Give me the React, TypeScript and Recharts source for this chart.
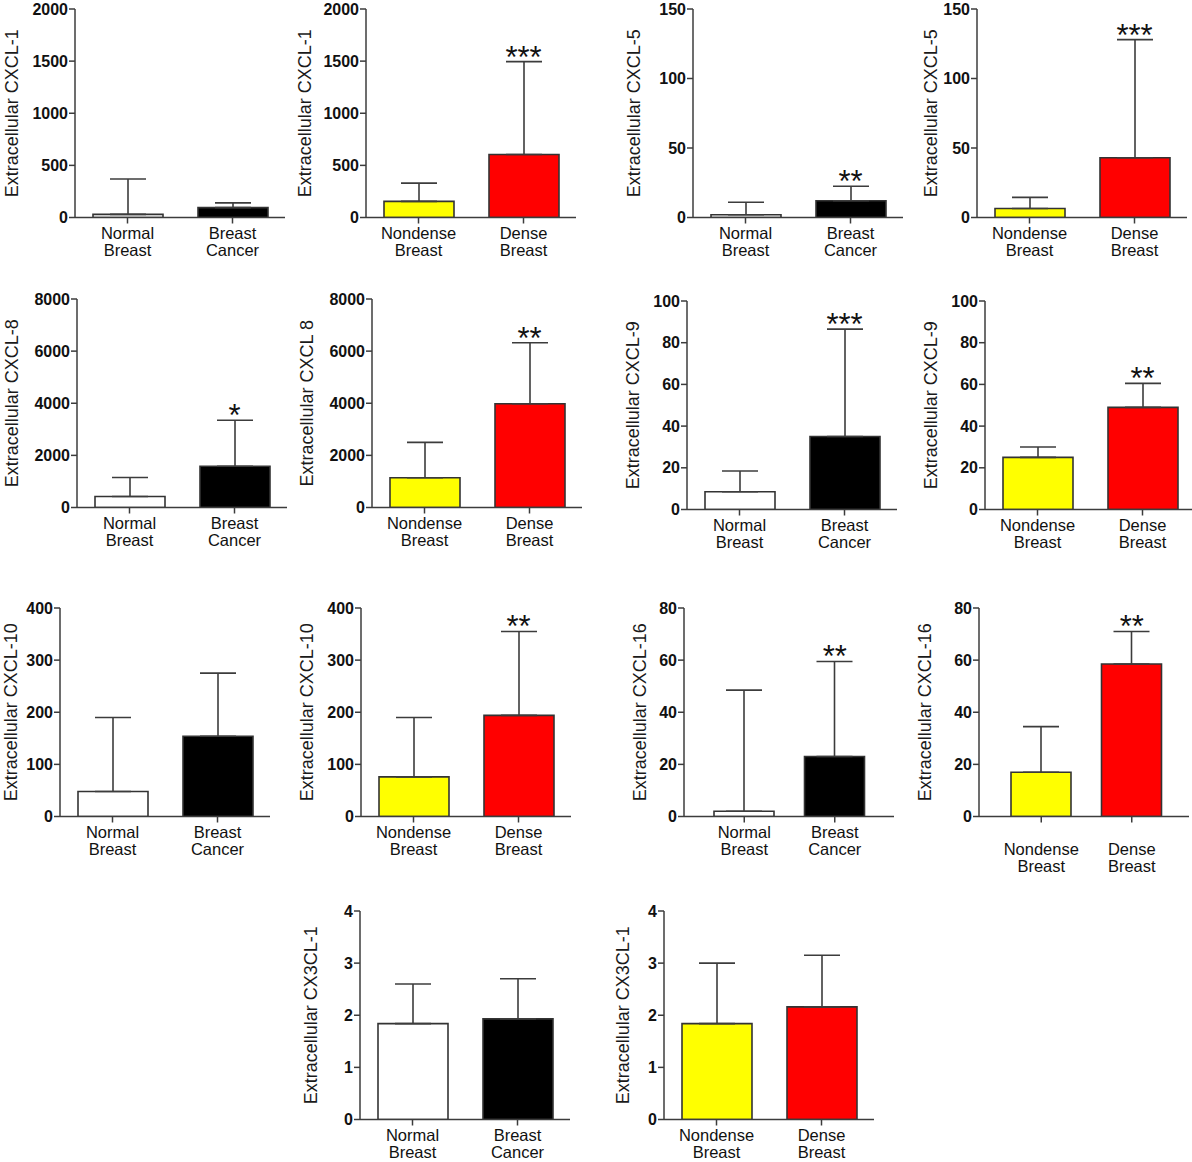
import React from 'react';
import { ComposedChart, Bar, Cell, ErrorBar, Scatter, XAxis, YAxis } from 'recharts';

// ---- categories & colours ----
const cancerGroups = ['Normal Breast', 'Breast Cancer'];
const densityGroups = ['Nondense Breast', 'Dense Breast'];
const cancerColors = ['#ffffff', '#000000'];
const densityColors = ['#ffff00', '#ff0000'];

// ---- means (bar height) and SD (upper whisker) ----
const cxcl1CancerMean = [30, 95];
const cxcl1CancerSd = [340, 45];
const cxcl1DenseMean = [155, 605];
const cxcl1DenseSd = [175, 890];

const cxcl5CancerMean = [2, 12];
const cxcl5CancerSd = [9, 10.5];
const cxcl5DenseMean = [6.5, 43];
const cxcl5DenseSd = [8, 85];

const cxcl8CancerMean = [420, 1580];
const cxcl8CancerSd = [730, 1770];
const cxcl8DenseMean = [1140, 3980];
const cxcl8DenseSd = [1360, 2340];

const cxcl9CancerMean = [8.5, 35];
const cxcl9CancerSd = [10, 51.5];
const cxcl9DenseMean = [25, 49];
const cxcl9DenseSd = [5, 11.5];

const cxcl10CancerMean = [48, 154];
const cxcl10CancerSd = [142, 121];
const cxcl10DenseMean = [76, 194];
const cxcl10DenseSd = [114, 161];

const cxcl16CancerMean = [2, 23];
const cxcl16CancerSd = [46.5, 36.5];
const cxcl16DenseMean = [17, 58.5];
const cxcl16DenseSd = [17.5, 12.5];

const cx3cl1CancerMean = [1.84, 1.93];
const cx3cl1CancerSd = [0.76, 0.77];
const cx3cl1DenseMean = [1.84, 2.16];
const cx3cl1DenseSd = [1.16, 0.99];

// ---- significance marks ----
const noStars = ['', ''];
const oneStar = ['', '*'];
const twoStars = ['', '**'];
const threeStars = ['', '***'];

// ---- y tick labels ----
const ticks2000 = [0, 500, 1000, 1500, 2000];
const ticks150 = [0, 50, 100, 150];
const ticks8000 = [0, 2000, 4000, 6000, 8000];
const ticks100 = [0, 20, 40, 60, 80, 100];
const ticks400 = [0, 100, 200, 300, 400];
const ticks80 = [0, 20, 40, 60, 80];
const ticks4 = [0, 1, 2, 3, 4];

const FONT = "'Liberation Sans', Arial, Helvetica, sans-serif";
const AXIS = '#3c3c3c';
const AXIS_W = 90;
const PLOT_H = 208.5;

type Panel = {
  title: string;
  groups: string[];
  mean: number[];
  sd: number[];
  colors: string[];
  stars: string[];
  ticks: number[];
  axisX: number;
  topY: number;
  titleDist: number;
  padL?: number;
  padR?: number;
  barSize?: number;
  drop?: number;
};

const panels: Panel[] = [
  { title: 'Extracellular CXCL-1', groups: cancerGroups, mean: cxcl1CancerMean, sd: cxcl1CancerSd, colors: cancerColors, stars: noStars, ticks: ticks2000, axisX: 75, topY: 8.5, titleDist: 63 },
  { title: 'Extracellular CXCL-1', groups: densityGroups, mean: cxcl1DenseMean, sd: cxcl1DenseSd, colors: densityColors, stars: threeStars, ticks: ticks2000, axisX: 366, topY: 8.5, titleDist: 61 },
  { title: 'Extracellular CXCL-5', groups: cancerGroups, mean: cxcl5CancerMean, sd: cxcl5CancerSd, colors: cancerColors, stars: twoStars, ticks: ticks150, axisX: 693, topY: 8.5, titleDist: 59 },
  { title: 'Extracellular CXCL-5', groups: densityGroups, mean: cxcl5DenseMean, sd: cxcl5DenseSd, colors: densityColors, stars: threeStars, ticks: ticks150, axisX: 977, topY: 8.5, titleDist: 46 },

  { title: 'Extracellular CXCL-8', groups: cancerGroups, mean: cxcl8CancerMean, sd: cxcl8CancerSd, colors: cancerColors, stars: oneStar, ticks: ticks8000, axisX: 77, topY: 298.5, titleDist: 65 },
  { title: 'Extracellular CXCL 8', groups: densityGroups, mean: cxcl8DenseMean, sd: cxcl8DenseSd, colors: densityColors, stars: twoStars, ticks: ticks8000, axisX: 372, topY: 298.5, titleDist: 65 },
  { title: 'Extracellular CXCL-9', groups: cancerGroups, mean: cxcl9CancerMean, sd: cxcl9CancerSd, colors: cancerColors, stars: threeStars, ticks: ticks100, axisX: 687, topY: 300.7, titleDist: 54 },
  { title: 'Extracellular CXCL-9', groups: densityGroups, mean: cxcl9DenseMean, sd: cxcl9DenseSd, colors: densityColors, stars: twoStars, ticks: ticks100, axisX: 985, topY: 300.7, titleDist: 54 },

  { title: 'Extracellular CXCL-10', groups: cancerGroups, mean: cxcl10CancerMean, sd: cxcl10CancerSd, colors: cancerColors, stars: noStars, ticks: ticks400, axisX: 60, topY: 608.3, titleDist: 49 },
  { title: 'Extracellular CXCL-10', groups: densityGroups, mean: cxcl10DenseMean, sd: cxcl10DenseSd, colors: densityColors, stars: twoStars, ticks: ticks400, axisX: 361, topY: 608.3, titleDist: 54 },
  { title: 'Extracellular CXCL-16', groups: cancerGroups, mean: cxcl16CancerMean, sd: cxcl16CancerSd, colors: cancerColors, stars: twoStars, ticks: ticks80, axisX: 684, topY: 608, titleDist: 44, padL: 15, padR: 14, barSize: 60 },
  { title: 'Extracellular CXCL-16', groups: densityGroups, mean: cxcl16DenseMean, sd: cxcl16DenseSd, colors: densityColors, stars: twoStars, ticks: ticks80, axisX: 979, topY: 608, titleDist: 54, padL: 17, padR: 12, barSize: 60, drop: 17 },

  { title: 'Extracellular CX3CL-1', groups: cancerGroups, mean: cx3cl1CancerMean, sd: cx3cl1CancerSd, colors: cancerColors, stars: noStars, ticks: ticks4, axisX: 360, topY: 911, titleDist: 49 },
  { title: 'Extracellular CX3CL-1', groups: densityGroups, mean: cx3cl1DenseMean, sd: cx3cl1DenseSd, colors: densityColors, stars: noStars, ticks: ticks4, axisX: 664, topY: 911, titleDist: 41 },
];

const CategoryTick = (props: any) => {
  const { x, y, payload, drop } = props;
  const words = String(payload.value).split(' ');
  return (
    <text x={x} y={y + 14 + (drop || 0)} textAnchor="middle" fontSize={16.5} fill="#111" fontFamily={FONT}>
      {words.map((w: string, i: number) => (
        <tspan key={i} x={x} dy={i === 0 ? 0 : 17}>{w}</tspan>
      ))}
    </text>
  );
};

const StarMark = (props: any) => {
  const { cx, cy, payload } = props;
  if (!payload || !payload.star) return <g />;
  return (
    <text x={cx} y={cy + 6} textAnchor="middle" fontSize={31} fill="#111" fontFamily={FONT}>
      {payload.star}
    </text>
  );
};

const ChartPanel = ({ p }: { p: Panel }) => {
  const data = p.groups.map((name, i) => ({
    name,
    mean: p.mean[i],
    err: [0, p.sd[i]],
    top: p.mean[i] + p.sd[i],
    star: p.stars[i],
  }));
  const plotW = 210;
  const xAxisH = 60 + (p.drop || 0);
  const width = AXIS_W + plotW + 3;
  const height = 12 + PLOT_H + xAxisH;
  const max = p.ticks[p.ticks.length - 1];

  return (
    <div style={{ position: 'absolute', left: p.axisX - AXIS_W, top: p.topY - 12 }}>
      <ComposedChart width={width} height={height} data={data} margin={{ top: 12, right: 3, bottom: 0, left: 0 }}>
        <XAxis
          dataKey="name"
          type="category"
          interval={0}
          height={xAxisH}
          padding={{ left: p.padL || 0, right: p.padR || 0 }}
          axisLine={{ stroke: AXIS, strokeWidth: 1.5 }}
          tickLine={{ stroke: AXIS, strokeWidth: 1.5 }}
          tickSize={6}
          tickMargin={1}
          tick={(tp: any) => <CategoryTick {...tp} drop={p.drop} />}
        />
        <YAxis
          type="number"
          width={AXIS_W}
          domain={[0, max]}
          ticks={p.ticks}
          interval={0}
          allowDataOverflow
          axisLine={{ stroke: AXIS, strokeWidth: 1.5 }}
          tickLine={{ stroke: AXIS, strokeWidth: 1.5 }}
          tickSize={6}
          tickMargin={1}
          tick={{ fontSize: 16, fontWeight: 700, fill: '#111', fontFamily: FONT }}
          label={{
            value: p.title,
            angle: -90,
            position: 'insideLeft',
            offset: AXIS_W - p.titleDist,
            style: { textAnchor: 'middle', fontSize: 18, fill: '#1a1a1a', fontFamily: FONT },
          }}
        />
        <Bar dataKey="mean" barSize={p.barSize || 70} stroke="#333" strokeWidth={1.6} isAnimationActive={false}>
          {data.map((d, i) => (
            <Cell key={d.name} fill={p.colors[i]} />
          ))}
          <ErrorBar dataKey="err" width={18} stroke="#3c3c3c" strokeWidth={1.6} direction="y" />
        </Bar>
        <Scatter dataKey="top" shape={StarMark} isAnimationActive={false} />
      </ComposedChart>
    </div>
  );
};

export default function App() {
  return (
    <div style={{ position: 'absolute', left: 0, top: 0, width: 1192, height: 1162, overflow: 'hidden', background: '#fff' }}>
      {panels.map((p, i) => (
        <ChartPanel key={i} p={p} />
      ))}
    </div>
  );
}
